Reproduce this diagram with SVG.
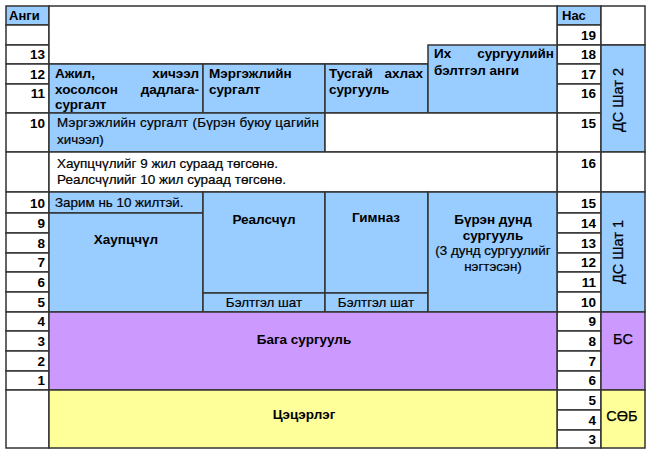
<svg xmlns="http://www.w3.org/2000/svg" width="650" height="455" viewBox="0 0 650 455">
<style>
.c{stroke:#333333;stroke-width:1.5}
.w{fill:#ffffff}
.b{fill:#99ccff}
.p{fill:#cc99ff}
.y{fill:#ffff99}
text{font-family:"Liberation Sans",Arial,sans-serif;fill:#000}
.n{font-size:13.5px;font-weight:bold;text-anchor:end}
.h{font-size:13px;font-weight:bold}
.bl{font-size:13.5px;font-weight:bold}
.r{font-size:13.4px;stroke:#000;stroke-width:0.2}
.s{font-size:14.5px;stroke:#000;stroke-width:0.25}
.m{text-anchor:middle}
</style>
<rect x="0" y="0" width="650" height="455" fill="#ffffff"/>

<g id="left-column">
<rect class="c b" x="6" y="6" width="43" height="19"/>
<text class="h" x="9" y="20">Анги</text>
<rect class="c w" x="6" y="25" width="43" height="20"/>
<rect class="c w" x="6" y="45" width="43" height="19"/><text class="n" x="45" y="59">13</text>
<rect class="c w" x="6" y="64" width="43" height="20"/><text class="n" x="45" y="79">12</text>
<rect class="c w" x="6" y="84" width="43" height="29"/><text class="n" x="45" y="98">11</text>
<rect class="c w" x="6" y="113" width="43" height="39"/><text class="n" x="45" y="128">10</text>
<rect class="c w" x="6" y="152" width="43" height="40"/>
<rect class="c w" x="6" y="192" width="43" height="21"/><text class="n" x="45" y="208">10</text>
<rect class="c w" x="6" y="213" width="43" height="20"/><text class="n" x="45" y="228">9</text>
<rect class="c w" x="6" y="233" width="43" height="20"/><text class="n" x="45" y="248">8</text>
<rect class="c w" x="6" y="253" width="43" height="19"/><text class="n" x="45" y="267">7</text>
<rect class="c w" x="6" y="272" width="43" height="20"/><text class="n" x="45" y="287">6</text>
<rect class="c w" x="6" y="292" width="43" height="20"/><text class="n" x="45" y="307">5</text>
<rect class="c w" x="6" y="312" width="43" height="19"/><text class="n" x="45" y="326">4</text>
<rect class="c w" x="6" y="331" width="43" height="20"/><text class="n" x="45" y="346">3</text>
<rect class="c w" x="6" y="351" width="43" height="20"/><text class="n" x="45" y="366">2</text>
<rect class="c w" x="6" y="371" width="43" height="19"/><text class="n" x="45" y="385">1</text>
<rect class="c w" x="6" y="390" width="43" height="58"/>
</g>

<g id="age-column">
<rect class="c b" x="557" y="6" width="44" height="19"/>
<text class="h" x="562" y="20">Нас</text>
<rect class="c w" x="557" y="25" width="44" height="20"/><text class="n" x="596" y="40">19</text>
<rect class="c w" x="557" y="45" width="44" height="19"/><text class="n" x="596" y="59">18</text>
<rect class="c w" x="557" y="64" width="44" height="20"/><text class="n" x="596" y="79">17</text>
<rect class="c w" x="557" y="84" width="44" height="29"/><text class="n" x="596" y="98">16</text>
<rect class="c w" x="557" y="113" width="44" height="39"/><text class="n" x="596" y="128">15</text>
<rect class="c w" x="557" y="152" width="44" height="40"/><text class="n" x="596" y="168">16</text>
<rect class="c w" x="557" y="192" width="44" height="21"/><text class="n" x="596" y="208">15</text>
<rect class="c w" x="557" y="213" width="44" height="20"/><text class="n" x="596" y="228">14</text>
<rect class="c w" x="557" y="233" width="44" height="20"/><text class="n" x="596" y="248">13</text>
<rect class="c w" x="557" y="253" width="44" height="19"/><text class="n" x="596" y="267">12</text>
<rect class="c w" x="557" y="272" width="44" height="20"/><text class="n" x="596" y="287">11</text>
<rect class="c w" x="557" y="292" width="44" height="20"/><text class="n" x="596" y="307">10</text>
<rect class="c w" x="557" y="312" width="44" height="19"/><text class="n" x="596" y="326">9</text>
<rect class="c w" x="557" y="331" width="44" height="20"/><text class="n" x="596" y="346">8</text>
<rect class="c w" x="557" y="351" width="44" height="20"/><text class="n" x="596" y="366">7</text>
<rect class="c w" x="557" y="371" width="44" height="19"/><text class="n" x="596" y="385">6</text>
<rect class="c w" x="557" y="390" width="44" height="20"/><text class="n" x="596" y="405">5</text>
<rect class="c w" x="557" y="410" width="44" height="20"/><text class="n" x="596" y="425">4</text>
<rect class="c w" x="557" y="430" width="44" height="18"/><text class="n" x="596" y="444">3</text>
</g>

<g id="stage-column">
<rect class="c w" x="601" y="6" width="44" height="39"/>
<rect class="c b" x="601" y="45" width="44" height="107"/>
<text class="s m" transform="translate(623,100) rotate(-90)">ДС Шат 2</text>
<rect class="c w" x="601" y="152" width="44" height="40"/>
<rect class="c b" x="601" y="192" width="44" height="120"/>
<text class="s m" transform="translate(623,252) rotate(-90)">ДС Шат 1</text>
<rect class="c p" x="601" y="312" width="44" height="78"/>
<text class="s m" x="623" y="344">БС</text>
<rect class="c y" x="601" y="390" width="44" height="58"/>
<text class="s m" x="622" y="421">СӨБ</text>
</g>

<g id="top-empty">
<rect class="c w" x="49" y="6" width="508" height="58"/>
</g>

<g id="work-study">
<rect class="c b" x="49" y="64" width="154" height="49"/>
<text class="bl" x="55" y="78">Ажил,</text>
<text class="bl" x="199" y="78" text-anchor="end">хичээл</text>
<text class="bl" x="55" y="94">хосолсон</text>
<text class="bl" x="199" y="94" text-anchor="end">дадлага-</text>
<text class="bl" x="55" y="109">сургалт</text>
</g>

<g id="vocational">
<rect class="c b" x="203" y="64" width="122" height="49"/>
<text class="bl" x="209" y="78">Мэргэжлийн</text>
<text class="bl" x="209" y="94">сургалт</text>
</g>

<g id="special-high">
<rect class="c b" x="325" y="64" width="103" height="49"/>
<text class="bl" x="329" y="78">Тусгай</text>
<text class="bl" x="423" y="78" text-anchor="end">ахлах</text>
<text class="bl" x="329" y="94">сургууль</text>
</g>

<g id="university-prep">
<rect class="c b" x="428" y="45" width="129" height="68"/>
<text class="bl" x="434" y="58">Их</text>
<text class="bl" x="554" y="58" text-anchor="end">сургуулийн</text>
<text class="bl" x="434" y="75">бэлтгэл анги</text>
</g>

<g id="vocational-full">
<rect class="c b" x="49" y="113" width="276" height="39"/>
<text class="r" x="57" y="127" textLength="262" lengthAdjust="spacing">Мэргэжлийн сургалт (Бүрэн буюу цагийн</text>
<text class="r" x="57" y="144">хичээл)</text>
</g>

<g id="empty-15">
<rect class="c w" x="325" y="113" width="232" height="39"/>
</g>

<g id="note">
<rect class="c w" x="49" y="152" width="508" height="40"/>
<text class="r" x="57" y="168" textLength="221" lengthAdjust="spacingAndGlyphs">Хаупцчүлийг 9 жил сураад төгсөнө.</text>
<text class="r" x="57" y="184" textLength="229" lengthAdjust="spacingAndGlyphs">Реалсчүлийг 10 жил сураад төгсөнө.</text>
</g>

<g id="some-10">
<rect class="c b" x="49" y="192" width="154" height="21"/>
<text class="r" x="55" y="207">Зарим нь 10 жилтэй.</text>
</g>

<g id="hauptschule">
<rect class="c b" x="49" y="213" width="154" height="99"/>
<text class="bl m" x="126" y="244">Хаупцчүл</text>
</g>

<g id="realschule">
<rect class="c b" x="203" y="192" width="122" height="101"/>
<text class="bl m" x="264" y="224">Реалсчүл</text>
<rect class="c b" x="203" y="293" width="122" height="19"/>
<text class="r m" x="264" y="307">Бэлтгэл шат</text>
</g>

<g id="gymnasium">
<rect class="c b" x="325" y="192" width="103" height="101"/>
<text class="bl m" x="376" y="222">Гимназ</text>
<rect class="c b" x="325" y="293" width="103" height="19"/>
<text class="r m" x="376" y="307">Бэлтгэл шат</text>
</g>

<g id="comprehensive">
<rect class="c b" x="428" y="192" width="129" height="120"/>
<text class="bl m" x="493" y="224">Бүрэн дунд</text>
<text class="bl m" x="493" y="240">сургууль</text>
<text class="r m" x="493" y="255">(3 дунд сургуулийг</text>
<text class="r m" x="493" y="271">нэгтэсэн)</text>
</g>

<g id="primary">
<rect class="c p" x="49" y="312" width="508" height="78"/>
<text class="bl m" x="304" y="344">Бага сургууль</text>
</g>

<g id="kindergarten">
<rect class="c y" x="49" y="390" width="508" height="58"/>
<text class="bl m" x="304" y="419">Цэцэрлэг</text>
</g>

<g id="connectors"/>
</svg>
